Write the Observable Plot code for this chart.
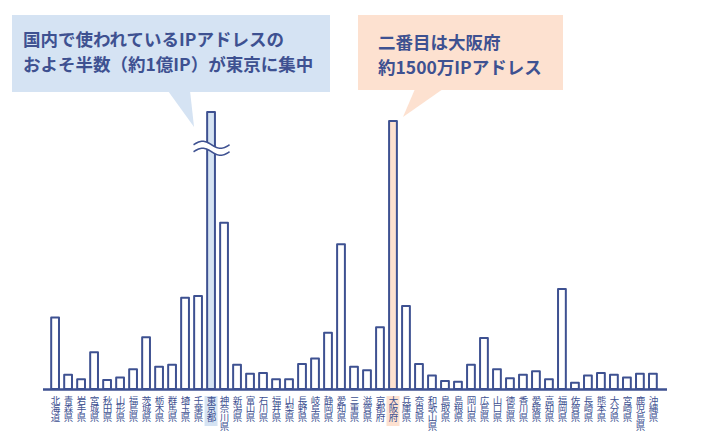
<!DOCTYPE html>
<html><head><meta charset="utf-8">
<script src="https://cdn.jsdelivr.net/npm/d3@7"></script>
<script src="https://cdn.jsdelivr.net/npm/@observablehq/plot@0.6"></script>
<style>
html,body{margin:0;padding:0;background:#fff;}
#chart{width:710px;height:440px;}
</style></head>
<body><div id="chart"></div>
<script>
// Prefectures (x categories)
const prefs = ["北海道","青森県","岩手県","宮城県","秋田県","山形県","福島県","茨城県","栃木県","群馬県","埼玉県","千葉県","東京都","神奈川県","新潟県","富山県","石川県","福井県","山梨県","長野県","岐阜県","静岡県","愛知県","三重県","滋賀県","京都府","大阪府","兵庫県","奈良県","和歌山県","鳥取県","島根県","岡山県","広島県","山口県","徳島県","香川県","愛媛県","高知県","福岡県","佐賀県","長崎県","熊本県","大分県","宮崎県","鹿児島県","沖縄県"];
// IP addresses in use, in units of 万 (10,000)
const ipMan = [400,80,55,205,50,65,110,290,125,135,510,520,10000,930,135,85,90,55,55,140,170,315,810,125,105,345,1500,465,140,75,45,40,135,285,110,60,80,100,55,560,35,75,90,80,65,85,85];
const highlight = ["東京都","大阪府"];
const tokyoNote = ["国内で使われているIPアドレスの","およそ半数（約1億IP）が東京に集中"];
const osakaNote = ["二番目は大阪府","約1500万IPアドレス"];

const data = prefs.map((p, i) => ({pref: p, value: ipMan[i]}));
const ink = "#3e5191";
const blueFill = "#d5e3f3";
const peachFill = "#fde1d0";
const fillOf = p => p === "東京都" ? blueFill : p === "大阪府" ? peachFill : "#ffffff";

const yMax = 1550;      // axis cut: Tokyo's bar is broken at the top
const breakAt = 1350;   // where the break mark is drawn on Tokyo's bar

const wave = x => -3.5 * Math.sin(Math.PI * (x + 18) / 18);
const breakLines = {draw(ctx) {
  for (const k of [-3.5, 3.5]) {
    ctx.moveTo(-18, k + wave(-18));
    for (let x = -17; x <= 18; x++) ctx.lineTo(x, k + wave(x));
  }
}};
const breakGap = {draw(ctx) {
  ctx.moveTo(-18, -3.5 + wave(-18));
  for (let x = -17; x <= 18; x++) ctx.lineTo(x, -3.5 + wave(x));
  for (let x = 18; x >= -18; x--) ctx.lineTo(x, 3.5 + wave(x));
  ctx.closePath();
}};

const hl = data.filter(d => highlight.includes(d.pref));
const tokyo = data.filter(d => d.pref === "東京都");

// vertical labels: one text mark per character row
const maxLen = d3.max(prefs, p => [...p].length);
const labelMarks = d3.range(maxLen).map(k =>
  Plot.text(data.filter(d => [...d.pref].length > k), {
    x: "pref", y: 0, text: d => [...d.pref][k], dy: 11 + k * 8.8,
    fontSize: 9.5, fill: ink, textAnchor: "middle"
  })
);

const plot = Plot.plot({
  width: 710, height: 440,
  marginLeft: 46, marginRight: 48, marginTop: 112, marginBottom: 51,
  style: {fontFamily: "'Noto Sans CJK JP', 'Noto Sans', sans-serif", background: "#fff", overflow: "visible"},
  x: {domain: prefs, padding: 0.4, axis: null},
  y: {domain: [0, yMax], clamp: true, axis: null},
  marks: [
    // label highlight boxes
    Plot.barY(hl, {x: "pref", y1: 0, y2: 0, insetTop: 7, insetBottom: -37, insetLeft: -2.6, insetRight: -2.6,
      fill: d => fillOf(d.pref)}),
    Plot.barY(data, {x: "pref", y: "value", fill: d => fillOf(d.pref), stroke: ink, strokeWidth: 2, strokeLinejoin: "round"}),
    Plot.dot(tokyo, {x: "pref", y: () => breakAt, symbol: breakGap, r: 3, fill: "#fff", stroke: "none"}),
    Plot.dot(tokyo, {x: "pref", y: () => breakAt, symbol: breakLines, r: 3, fill: "none", stroke: ink, strokeWidth: 1.6}),
    Plot.ruleY([0], {stroke: ink, strokeWidth: 2.5, insetLeft: -3, insetRight: -5}),
    ...labelMarks
  ]
});

// Callouts (annotations), pointers aimed from the x scale
const xs = plot.scale("x");
const cx = p => xs.apply(p) + xs.bandwidth / 2;
const svg = d3.select(plot);
const g = svg.insert("g", ":first-child");
const tx = cx("東京都"), ox = cx("大阪府");
g.append("rect").attr("x", 12).attr("y", 15).attr("width", 318).attr("height", 77).attr("fill", blueFill);
g.append("path").attr("d", `M${tx - 43},91 L${tx - 21},91 L${tx - 17},127 Z`).attr("fill", blueFill);
g.append("rect").attr("x", 358).attr("y", 15).attr("width", 205).attr("height", 75).attr("fill", peachFill);
g.append("path").attr("d", `M${ox + 22},89 L${ox + 50},89 L${ox + 10},117 Z`).attr("fill", peachFill);
const t1 = g.append("text").attr("fill", ink).attr("font-size", 17.5).attr("font-weight", 700).attr("text-anchor", "start");
tokyoNote.forEach((s, i) => t1.append("tspan").attr("x", 23).attr("y", 45.5 + i * 25).text(s));
const t2 = g.append("text").attr("fill", ink).attr("font-size", 17.5).attr("font-weight", 700).attr("text-anchor", "start");
osakaNote.forEach((s, i) => t2.append("tspan").attr("x", 378).attr("y", 48.5 + i * 25).text(s));

document.getElementById("chart").append(plot);
</script>
</body></html>
